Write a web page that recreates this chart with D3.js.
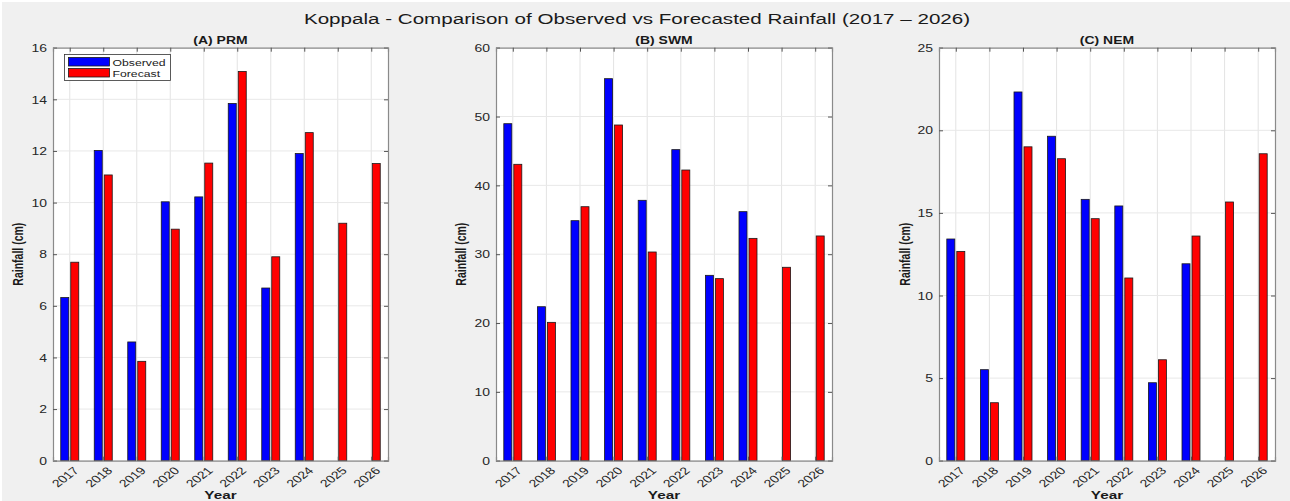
<!DOCTYPE html>
<html><head><meta charset="utf-8">
<script src="https://cdn.jsdelivr.net/npm/d3@7"></script>
<style>
html,body{margin:0;padding:0;background:#fff;}
svg{display:block;}
text{font-family:"Liberation Sans",Arial,Helvetica,sans-serif;}
</style></head>
<body>
<svg id="chart" width="1290" height="501"></svg>
<script>
const years = [2017, 2018, 2019, 2020, 2021, 2022, 2023, 2024, 2025, 2026];
const prmObserved = [6.32, 12.02, 4.6, 10.03, 10.22, 13.84, 6.69, 11.9, 0, 0];
const prmForecast = [7.69, 11.07, 3.85, 8.97, 11.53, 15.08, 7.9, 12.71, 9.2, 11.51];
const swmObserved = [48.96, 22.37, 34.87, 55.5, 37.83, 45.19, 26.93, 36.18, 0, 0];
const swmForecast = [43.06, 20.1, 36.9, 48.77, 30.32, 42.23, 26.45, 32.3, 28.1, 32.65];
const nemObserved = [13.42, 5.51, 22.32, 19.64, 15.82, 15.42, 4.72, 11.92, 0, 0];
const nemForecast = [12.67, 3.51, 19.0, 18.28, 14.65, 11.06, 6.11, 13.6, 15.66, 18.58];
const prmTicks = [0, 2, 4, 6, 8, 10, 12, 14, 16];
const swmTicks = [0, 10, 20, 30, 40, 50, 60];
const nemTicks = [0, 5, 10, 15, 20, 25];
const seriesNames = ["Observed", "Forecast"];
const seriesColors = ["#0000ff", "#ff0000"];
const chartTitle = "Koppala - Comparison of Observed vs Forecasted Rainfall (2017 \u2013 2026)";

const panels = [
  {title: "(A) PRM", obs: prmObserved, fc: prmForecast, ticks: prmTicks, left: 53, right: 388, labelX: 19, legend: true},
  {title: "(B) SWM", obs: swmObserved, fc: swmForecast, ticks: swmTicks, left: 496, right: 832, labelX: 462, legend: false},
  {title: "(C) NEM", obs: nemObserved, fc: nemForecast, ticks: nemTicks, left: 939, right: 1275, labelX: 906, legend: false}
];

const SX = 1.33; // horizontal stretch of the original figure's text
const svg = d3.select("#chart");
svg.append("rect").attr("x", 2).attr("y", 2).attr("width", 1288).attr("height", 499).attr("fill", "#f0f0f0");

function stretchedText(parent, x, y, str, opts) {
  const rot = opts.rotate ? ` rotate(${opts.rotate})` : "";
  const t = parent.append("text")
    .attr("transform", `translate(${x},${y}) scale(${SX},1)${rot}`)
    .attr("text-anchor", opts.anchor || "middle")
    .attr("font-size", opts.size)
    .attr("font-weight", opts.weight || "normal")
    .attr("fill", opts.fill || "#1a1a1a")
    .text(str);
  return t;
}

stretchedText(svg, 637, 24, chartTitle, {size: 15.5, fill: "#1a1a1a"});

const plotTop = 47.7, plotBottom = 460.7;
const axisColor = "#8a8a8a";
const tickColor = "#262626";

panels.forEach(p => {
  const g = svg.append("g");
  const x = d3.scaleLinear().domain([years[0] - 0.5, years[years.length - 1] + 0.5]).range([p.left, p.right]);
  const y = d3.scaleLinear().domain([0, p.ticks[p.ticks.length - 1]]).range([plotBottom, plotTop]);
  const W = p.right - p.left, H = plotBottom - plotTop;

  g.append("rect").attr("x", p.left).attr("y", plotTop).attr("width", W).attr("height", H).attr("fill", "#fff");

  g.append("g").selectAll("line").data(years).join("line")
    .attr("x1", d => x(d)).attr("x2", d => x(d)).attr("y1", plotTop).attr("y2", plotBottom)
    .attr("stroke", "#e3e3e3").attr("stroke-width", 1);
  g.append("g").selectAll("line").data(p.ticks).join("line")
    .attr("x1", p.left).attr("x2", p.right).attr("y1", d => y(d)).attr("y2", d => y(d))
    .attr("stroke", "#e8e8e8").attr("stroke-width", 1);

  const bw = 8, off = 5;
  [p.obs, p.fc].forEach((vals, si) => {
    g.append("g").selectAll("rect").data(vals).join("rect")
      .attr("x", (d, i) => x(years[i]) + (si === 0 ? -off : off) - bw / 2)
      .attr("y", d => y(d))
      .attr("width", bw)
      .attr("height", d => Math.max(0, y(0) - y(d)))
      .attr("fill", seriesColors[si])
      .attr("stroke", "#1a1a1a").attr("stroke-width", 0.8);
  });

  const yAxisL = d3.axisLeft(y).tickValues(p.ticks).tickSize(-4).tickPadding(4.5).tickFormat(d3.format("d"));
  const yAxisR = d3.axisRight(y).tickValues(p.ticks).tickSize(-4).tickFormat("");
  const xAxisB = d3.axisBottom(x).tickValues(years).tickSize(-4).tickFormat(d3.format("d"));
  const xAxisT = d3.axisTop(x).tickValues(years).tickSize(-4).tickFormat("");

  const gl = g.append("g").attr("transform", `translate(${p.left},0)`).call(yAxisL);
  const gr = g.append("g").attr("transform", `translate(${p.right},0)`).call(yAxisR);
  const gb = g.append("g").attr("transform", `translate(0,${plotBottom})`).call(xAxisB);
  const gt = g.append("g").attr("transform", `translate(0,${plotTop})`).call(xAxisT);
  [gl, gr, gb, gt].forEach(a => {
    a.select(".domain").attr("stroke", axisColor).attr("stroke-width", 1.2);
    a.selectAll(".tick line").attr("stroke", "#555");
    a.selectAll("text").attr("fill", tickColor).attr("font-size", 10.5)
      .attr("font-family", "'Liberation Sans',Arial,sans-serif");
  });
  gl.selectAll(".tick text").attr("dy", "0.35em").attr("transform", `scale(${SX},1)`);
  gb.selectAll(".tick text")
    .attr("x", 0).attr("y", 0)
    .attr("text-anchor", "end")
    .attr("dy", "0.35em")
    .attr("transform", `translate(6,8) scale(${SX},1) rotate(-45)`);

  stretchedText(svg, (p.left + p.right) / 2, 43.5, p.title, {size: 10.5, weight: "bold"});
  stretchedText(svg, p.labelX + 4, (plotTop + plotBottom) / 2, "Rainfall (cm)", {size: 10.5, weight: "bold", rotate: -90});
  stretchedText(svg, (p.left + p.right) / 2, 499, "Year", {size: 11.5, weight: "bold"});

  if (p.legend) {
    const lg = svg.append("g");
    lg.append("rect").attr("x", 64.5).attr("y", 54.5).attr("width", 106).attr("height", 26)
      .attr("fill", "#fff").attr("stroke", "#333").attr("stroke-width", 0.8);
    seriesNames.forEach((n, i) => {
      lg.append("rect").attr("x", 68.5).attr("y", 57.5 + i * 11).attr("width", 41).attr("height", 8.5)
        .attr("fill", seriesColors[i]).attr("stroke", "#1a1a1a").attr("stroke-width", 0.8);
      stretchedText(lg, 112.5, 65.5 + i * 11, n, {size: 9.2, anchor: "start"});
    });
  }
});
</script>
</body></html>
